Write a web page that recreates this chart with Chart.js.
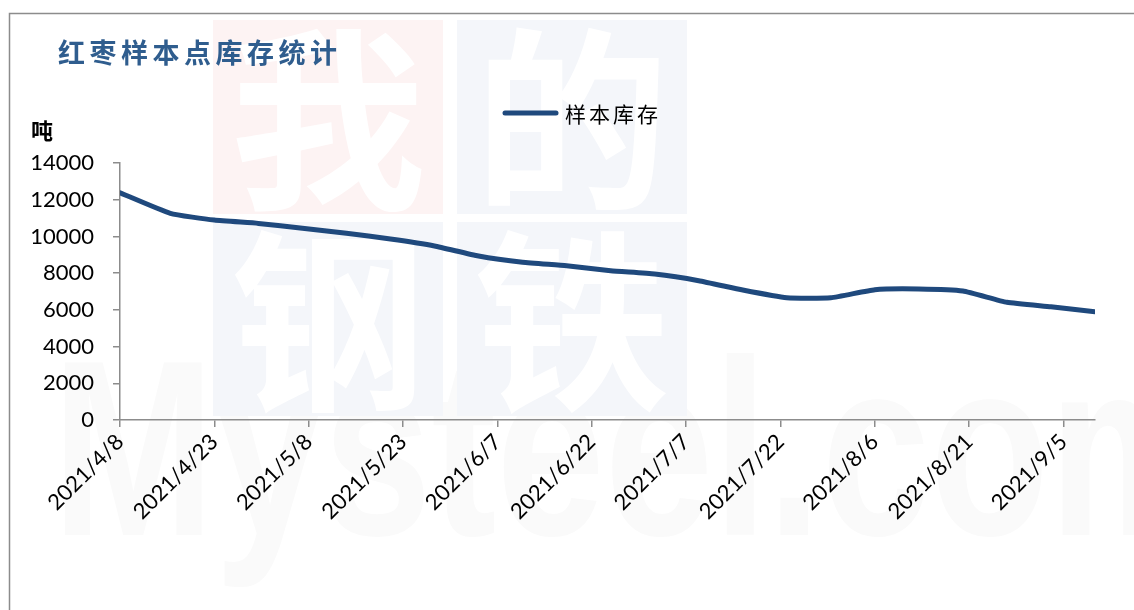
<!DOCTYPE html>
<html>
<head>
<meta charset="utf-8">
<script src="https://cdn.jsdelivr.net/npm/chart.js@4"></script>
<style>
  html, body { margin: 0; padding: 0; background: #fff; }
  #wrap { width: 1134px; height: 610px; }
</style>
</head>
<body>
<div id="wrap"><canvas id="stockChart" width="1134" height="610"></canvas></div>
<script>
// weekly sample-point stock of red dates (tons)
const dates = ['2021-04-08', '2021-04-16', '2021-04-23', '2021-04-30', '2021-05-07', '2021-05-14',
    '2021-05-21', '2021-05-28', '2021-06-04', '2021-06-11', '2021-06-18', '2021-06-25',
    '2021-07-02', '2021-07-09', '2021-07-16', '2021-07-23', '2021-07-30', '2021-08-06',
    '2021-08-13', '2021-08-20', '2021-08-27', '2021-09-03', '2021-09-10'];
const stock = [12380, 11260, 10890, 10710, 10440, 10170, 9860, 9480, 8930, 8590, 8400, 8130,
    7950, 7590, 7080, 6660, 6660, 7100, 7140, 7030, 6410, 6170, 5900];
const yTicks = [0, 2000, 4000, 6000, 8000, 10000, 12000, 14000];
const seriesName = '样本库存';
const titleText = '红枣样本点库存统计';
const unitText = '吨';

const DAY = 86400000;
const startDate = Date.UTC(2021, 3, 8);

function toDays(s) {
    const p = s.split('-').map(Number);
    return (Date.UTC(p[0], p[1] - 1, p[2]) - startDate) / DAY;
}

function dayLabel(d) {
    const t = new Date(startDate + d * DAY);
    return t.getUTCFullYear() + '/' + (t.getUTCMonth() + 1) + '/' + t.getUTCDate();
}

const points = dates.map((d, i) => ({ x: toDays(d), y: stock[i] }));

// watermark, title, unit and legend
const decorPlugin = {
    id: 'decor',
    beforeDraw(chart) {
        const ctx = chart.ctx;
        ctx.save();
        // frame
        ctx.strokeStyle = '#8c8c8c';
        ctx.lineWidth = 1.5;
        ctx.beginPath();
        ctx.moveTo(9.5, 610);
        ctx.lineTo(9.5, 13.5);
        ctx.lineTo(1134, 13.5);
        ctx.stroke();

        // Mysteel.com watermark
        ctx.save();
        ctx.fillStyle = '#fafafa';
        ctx.font = 'bold 250px "Liberation Sans"';
        ctx.textBaseline = 'alphabetic';
        ctx.translate(52, 535);
        ctx.scale(0.78, 1);
        ctx.fillText('Mysteel.com', 0, 0);
        ctx.restore();

        // 我的钢铁 blocks
        const blocks = [
            { x: 213, y: 20, c: '#fdf3f3', t: '我' },
            { x: 457, y: 20, c: '#f4f6fa', t: '的' },
            { x: 213, y: 222, c: '#f4f6fa', t: '钢' },
            { x: 457, y: 222, c: '#f4f6fa', t: '铁' }
        ];
        blocks.forEach(b => {
            ctx.fillStyle = b.c;
            ctx.fillRect(b.x, b.y, 230, 194);
            ctx.fillStyle = '#ffffff';
            ctx.font = 'bold 195px "Noto Sans CJK SC"';
            ctx.textAlign = 'center';
            ctx.textBaseline = 'middle';
            ctx.fillText(b.t, b.x + 115, b.y + 100);
        });
        ctx.restore();
    },
    afterDraw(chart) {
        const ctx = chart.ctx;
        ctx.save();
        ctx.textAlign = 'left';
        ctx.textBaseline = 'middle';

        ctx.fillStyle = '#2f5d8e';
        ctx.font = 'bold 27px "Noto Sans CJK SC"';
        ctx.letterSpacing = '4.5px';
        ctx.fillText(titleText, 58, 53);

        ctx.fillStyle = '#000';
        ctx.font = '21px "Noto Sans CJK SC"';
        ctx.letterSpacing = '3px';
        ctx.fillText(seriesName, 565, 114);

        ctx.letterSpacing = '0px';
        ctx.font = 'bold 22px "Noto Sans CJK SC"';
        ctx.fillText(unitText, 31, 131);

        ctx.strokeStyle = '#1f497d';
        ctx.lineWidth = 5;
        ctx.lineCap = 'round';
        ctx.beginPath();
        ctx.moveTo(505, 113);
        ctx.lineTo(556, 113);
        ctx.stroke();
        ctx.restore();
    }
};

const ctx = document.getElementById('stockChart').getContext('2d');

new Chart(ctx, {
    type: 'line',
    data: {
        datasets: [{
            label: seriesName,
            data: points,
            borderColor: '#1f497d',
            borderWidth: 5,
            pointRadius: 0,
            tension: 0.15,
            borderCapStyle: 'round',
            borderJoinStyle: 'round',
            fill: false
        }]
    },
    options: {
        responsive: false,
        animation: false,
        layout: { padding: { left: 0, right: 39, top: 163, bottom: 0 } },
        plugins: {
            legend: { display: false },
            title: { display: false },
            tooltip: { enabled: false }
        },
        scales: {
            x: {
                type: 'linear',
                min: 0,
                max: 155,
                afterFit: s => { s.height = 190; },
                afterBuildTicks: s => {
                    s.ticks = [];
                    for (let d = 0; d <= 150; d += 15) s.ticks.push({ value: d });
                },
                ticks: {
                    color: '#000',
                    font: { family: 'Lato', size: 22 },
                    minRotation: 45,
                    maxRotation: 45,
                    padding: 2,
                    callback: v => dayLabel(v)
                },
                grid: { display: true, drawOnChartArea: false, drawTicks: true, tickLength: 7, color: '#8c8c8c', lineWidth: 1.5 },
                border: { display: true, color: '#8c8c8c', width: 1.5 }
            },
            y: {
                min: 0,
                max: 14000,
                afterFit: s => { s.width = 120; },
                afterBuildTicks: s => { s.ticks = yTicks.map(v => ({ value: v })); },
                ticks: {
                    color: '#000',
                    font: { family: 'Lato', size: 22 },
                    padding: 19,
                    callback: v => String(v)
                },
                grid: { display: true, drawOnChartArea: false, drawTicks: true, tickLength: 7, color: '#8c8c8c', lineWidth: 1.5 },
                border: { display: true, color: '#8c8c8c', width: 1.5 }
            }
        }
    },
    plugins: [decorPlugin]
});
</script>
</body>
</html>
